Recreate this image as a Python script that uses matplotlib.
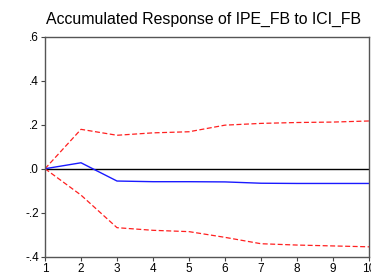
import numpy as np
import matplotlib.pyplot as plt

# Donnees
periodes = [1, 2, 3, 4, 5, 6, 7, 8, 9, 10]
reponse = [0.0, 0.027, -0.056, -0.059, -0.059, -0.060, -0.066, -0.067, -0.067, -0.067]
borne_sup = [0.0, 0.179, 0.152, 0.163, 0.168, 0.198, 0.206, 0.210, 0.212, 0.217]
borne_inf = [0.0, -0.120, -0.268, -0.280, -0.286, -0.312, -0.341, -0.347, -0.351, -0.355]
yticks = [-0.4, -0.2, 0.0, 0.2, 0.4, 0.6]
ylabels = ["-.4", "-.2", ".0", ".2", ".4", ".6"]

plt.rcParams['font.family'] = ['Liberation Sans', 'DejaVu Sans']

fig = plt.figure(figsize=(3.71, 2.75), dpi=100)
ax = fig.add_axes([0.1213, 0.0665, 0.8733, 0.80])

ax.axhline(0, color="black", linewidth=1.0)
ax.plot(periodes, borne_sup, color="#ff2020", linestyle=(0, (4, 2)), linewidth=0.9)
ax.plot(periodes, borne_inf, color="#ff2020", linestyle=(0, (4, 2)), linewidth=0.9)
ax.plot(periodes, reponse, color="#1a1aff", linewidth=1.0)

ax.set_xlim(1, 10)
ax.set_ylim(-0.4, 0.6)
ax.set_xticks(periodes)
ax.set_yticks(yticks)
ax.set_yticklabels(ylabels)
ax.tick_params(labelsize=8.5, length=3, width=0.8, colors="#444444", labelcolor="black", pad=1.5)
for s in ax.spines.values():
    s.set_color("#555555")
    s.set_linewidth(1.0)

ax.set_title("Accumulated Response of IPE_FB to ICI_FB", fontsize=11.4, pad=9, x=0.49)

plt.savefig("out.png", dpi=100)
